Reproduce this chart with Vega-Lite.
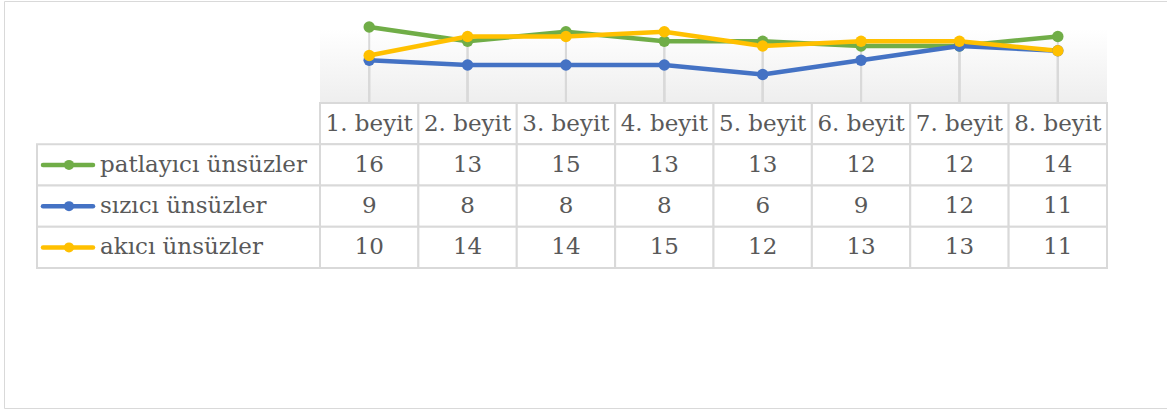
{
  "$schema": "https://vega.github.io/schema/vega-lite/v6.json",
  "width": 1163,
  "height": 407,
  "autosize": {"type": "none"},
  "padding": {"left": 4, "top": 1, "right": 0, "bottom": 2},
  "background": "white",
  "config": {
    "view": {"stroke": "#d9d9d9", "strokeWidth": 1},
    "text": {"font": "DejaVu Serif", "fontSize": 23, "fill": "#595959"}
  },
  "datasets": {
    "vals": [
      {"beyit": "1. beyit", "series": "patlayıcı ünsüzler", "value": 16},
      {"beyit": "2. beyit", "series": "patlayıcı ünsüzler", "value": 13},
      {"beyit": "3. beyit", "series": "patlayıcı ünsüzler", "value": 15},
      {"beyit": "4. beyit", "series": "patlayıcı ünsüzler", "value": 13},
      {"beyit": "5. beyit", "series": "patlayıcı ünsüzler", "value": 13},
      {"beyit": "6. beyit", "series": "patlayıcı ünsüzler", "value": 12},
      {"beyit": "7. beyit", "series": "patlayıcı ünsüzler", "value": 12},
      {"beyit": "8. beyit", "series": "patlayıcı ünsüzler", "value": 14},
      {"beyit": "1. beyit", "series": "sızıcı ünsüzler", "value": 9},
      {"beyit": "2. beyit", "series": "sızıcı ünsüzler", "value": 8},
      {"beyit": "3. beyit", "series": "sızıcı ünsüzler", "value": 8},
      {"beyit": "4. beyit", "series": "sızıcı ünsüzler", "value": 8},
      {"beyit": "5. beyit", "series": "sızıcı ünsüzler", "value": 6},
      {"beyit": "6. beyit", "series": "sızıcı ünsüzler", "value": 9},
      {"beyit": "7. beyit", "series": "sızıcı ünsüzler", "value": 12},
      {"beyit": "8. beyit", "series": "sızıcı ünsüzler", "value": 11},
      {"beyit": "1. beyit", "series": "akıcı ünsüzler", "value": 10},
      {"beyit": "2. beyit", "series": "akıcı ünsüzler", "value": 14},
      {"beyit": "3. beyit", "series": "akıcı ünsüzler", "value": 14},
      {"beyit": "4. beyit", "series": "akıcı ünsüzler", "value": 15},
      {"beyit": "5. beyit", "series": "akıcı ünsüzler", "value": 12},
      {"beyit": "6. beyit", "series": "akıcı ünsüzler", "value": 13},
      {"beyit": "7. beyit", "series": "akıcı ünsüzler", "value": 13},
      {"beyit": "8. beyit", "series": "akıcı ünsüzler", "value": 11}
    ],
    "series": [
      {"series": "patlayıcı ünsüzler"},
      {"series": "sızıcı ünsüzler"},
      {"series": "akıcı ünsüzler"}
    ],
    "frame": [{"x0": 0, "x1": 1, "y0": 0, "y1": 1}]
  },
  "data": {"name": "vals"},
  "layer": [
    {
      "data": {"name": "frame"},
      "mark": {"type": "rect", "fill": {"gradient": "linear", "x1": 0, "y1": 1, "x2": 0, "y2": 0, "stops": [{"offset": 0, "color": "#eeeeee"}, {"offset": 0.75, "color": "#ffffff"}]}},
      "encoding": {
        "x": {"field": "x0", "type": "quantitative", "scale": {"domain": [0, 1], "range": [316, 1103], "nice": false, "zero": false}, "axis": null},
        "x2": {"field": "x1"},
        "y": {"field": "y0", "type": "quantitative", "scale": {"domain": [0, 1], "range": [102, 3], "nice": false, "zero": false}, "axis": null},
        "y2": {"field": "y1"}
      }
    },
    {
      "mark": {"type": "rule", "color": "#d9d9d9", "strokeWidth": 2},
      "encoding": {
        "x": {"field": "beyit", "type": "nominal", "scale": {"type": "point", "padding": 0.5, "range": [316, 1103]}, "axis": null, "sort": null},
        "y": {"field": "value", "type": "quantitative", "scale": {"domain": [0, 20], "range": [102, 7], "nice": false, "zero": false}, "axis": null},
        "y2": {"datum": 0}
      }
    },
    {
      "mark": {"type": "line", "strokeWidth": 4.5, "strokeJoin": "round", "strokeCap": "round"},
      "encoding": {
        "x": {"field": "beyit", "type": "nominal", "scale": {"type": "point", "padding": 0.5, "range": [316, 1103]}, "axis": null, "sort": null},
        "y": {"field": "value", "type": "quantitative", "scale": {"domain": [0, 20], "range": [102, 7], "nice": false, "zero": false}, "axis": null},
        "color": {"field": "series", "type": "nominal", "scale": {"domain": ["patlayıcı ünsüzler", "sızıcı ünsüzler", "akıcı ünsüzler"], "range": ["#70ad47", "#4472c4", "#ffc000"]}, "legend": null}
      }
    },
    {
      "mark": {"type": "point", "filled": true, "size": 130, "opacity": 1},
      "encoding": {
        "x": {"field": "beyit", "type": "nominal", "scale": {"type": "point", "padding": 0.5, "range": [316, 1103]}, "axis": null, "sort": null},
        "y": {"field": "value", "type": "quantitative", "scale": {"domain": [0, 20], "range": [102, 7], "nice": false, "zero": false}, "axis": null},
        "color": {"field": "series", "type": "nominal", "legend": null}
      }
    },
    {
      "transform": [{"aggregate": [{"op": "count", "as": "n"}], "groupby": ["beyit"]}],
      "mark": {"type": "rect", "fill": "white", "stroke": "#d9d9d9", "strokeWidth": 2},
      "encoding": {
        "x": {"field": "beyit", "type": "nominal", "scale": {"type": "band", "domain": ["1. beyit", "2. beyit", "3. beyit", "4. beyit", "5. beyit", "6. beyit", "7. beyit", "8. beyit"], "range": [316, 1103], "paddingInner": 0, "paddingOuter": 0}, "axis": null},
        "y": {"datum": "header", "type": "nominal", "scale": {"type": "band", "domain": ["header", "patlayıcı ünsüzler", "sızıcı ünsüzler", "akıcı ünsüzler"], "range": [102, 267], "paddingInner": 0, "paddingOuter": 0}, "axis": null}
      }
    },
    {
      "mark": {"type": "rect", "fill": "white", "stroke": "#d9d9d9", "strokeWidth": 2},
      "encoding": {
        "x": {"field": "beyit", "type": "nominal", "scale": {"type": "band", "domain": ["1. beyit", "2. beyit", "3. beyit", "4. beyit", "5. beyit", "6. beyit", "7. beyit", "8. beyit"], "range": [316, 1103], "paddingInner": 0, "paddingOuter": 0}, "axis": null},
        "y": {"field": "series", "type": "nominal", "scale": {"type": "band", "domain": ["header", "patlayıcı ünsüzler", "sızıcı ünsüzler", "akıcı ünsüzler"], "range": [102, 267], "paddingInner": 0, "paddingOuter": 0}, "axis": null}
      }
    },
    {
      "data": {"name": "series"},
      "mark": {"type": "rect", "fill": "white", "stroke": "#d9d9d9", "strokeWidth": 2},
      "encoding": {
        "x": {"value": 33},
        "x2": {"value": 316},
        "y": {"field": "series", "type": "nominal", "scale": {"type": "band", "domain": ["header", "patlayıcı ünsüzler", "sızıcı ünsüzler", "akıcı ünsüzler"], "range": [102, 267], "paddingInner": 0, "paddingOuter": 0}, "axis": null}
      }
    },
    {
      "transform": [{"aggregate": [{"op": "count", "as": "n"}], "groupby": ["beyit"]}],
      "mark": {"type": "text", "align": "center", "baseline": "middle"},
      "encoding": {
        "x": {"field": "beyit", "type": "nominal", "scale": {"type": "point", "padding": 0.5, "domain": ["1. beyit", "2. beyit", "3. beyit", "4. beyit", "5. beyit", "6. beyit", "7. beyit", "8. beyit"], "range": [316, 1103]}, "axis": null},
        "y": {"datum": "header", "type": "nominal", "scale": {"type": "point", "padding": 0.5, "domain": ["header", "patlayıcı ünsüzler", "sızıcı ünsüzler", "akıcı ünsüzler"], "range": [102, 267]}, "axis": null},
        "text": {"field": "beyit"}
      }
    },
    {
      "mark": {"type": "text", "align": "center", "baseline": "middle"},
      "encoding": {
        "x": {"field": "beyit", "type": "nominal", "scale": {"type": "point", "padding": 0.5, "domain": ["1. beyit", "2. beyit", "3. beyit", "4. beyit", "5. beyit", "6. beyit", "7. beyit", "8. beyit"], "range": [316, 1103]}, "axis": null},
        "y": {"field": "series", "type": "nominal", "scale": {"type": "point", "padding": 0.5, "domain": ["header", "patlayıcı ünsüzler", "sızıcı ünsüzler", "akıcı ünsüzler"], "range": [102, 267]}, "axis": null},
        "text": {"field": "value"}
      }
    },
    {
      "data": {"name": "series"},
      "mark": {"type": "rule", "strokeWidth": 4.5, "strokeCap": "round"},
      "encoding": {
        "x": {"value": 39},
        "x2": {"value": 89},
        "y": {"field": "series", "type": "nominal", "scale": {"type": "point", "padding": 0.5, "domain": ["header", "patlayıcı ünsüzler", "sızıcı ünsüzler", "akıcı ünsüzler"], "range": [102, 267]}, "axis": null},
        "color": {"field": "series", "type": "nominal", "legend": null}
      }
    },
    {
      "data": {"name": "series"},
      "mark": {"type": "point", "filled": true, "size": 100, "opacity": 1},
      "encoding": {
        "x": {"value": 65},
        "y": {"field": "series", "type": "nominal", "scale": {"type": "point", "padding": 0.5, "domain": ["header", "patlayıcı ünsüzler", "sızıcı ünsüzler", "akıcı ünsüzler"], "range": [102, 267]}, "axis": null},
        "color": {"field": "series", "type": "nominal", "legend": null}
      }
    },
    {
      "data": {"name": "series"},
      "mark": {"type": "text", "align": "left", "baseline": "middle"},
      "encoding": {
        "x": {"value": 96},
        "y": {"field": "series", "type": "nominal", "scale": {"type": "point", "padding": 0.5, "domain": ["header", "patlayıcı ünsüzler", "sızıcı ünsüzler", "akıcı ünsüzler"], "range": [102, 267]}, "axis": null},
        "text": {"field": "series"}
      }
    }
  ],
  "resolve": {"scale": {"x": "independent", "y": "independent", "color": "shared"}}
}
